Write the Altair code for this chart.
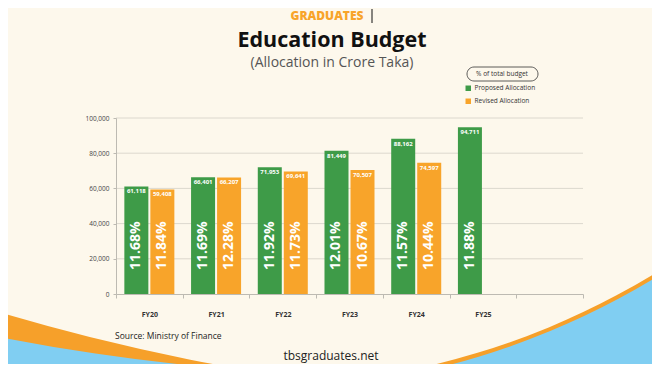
import math
import altair as alt
import pandas as pd

# ---------------- data ----------------
years = ["FY20", "FY21", "FY22", "FY23", "FY24", "FY25"]
proposed = [61118, 66401, 71953, 81449, 88162, 94711]
revised = [59408, 66207, 69641, 70507, 74597, None]
proposed_pct = [11.68, 11.69, 11.92, 12.01, 11.57, 11.88]
revised_pct = [11.84, 12.28, 11.73, 10.67, 10.44, None]
series = ["Proposed Allocation", "Revised Allocation"]
y_ticks = [0, 20000, 40000, 60000, 80000, 100000]
x_domain = years + [" "]

TITLE = "Education Budget"
SUBTITLE = "(Allocation in Crore Taka)"
BRAND = "GRADUATES"
LEGEND_NOTE = "% of total budget"
SOURCE = "Source: Ministry of Finance"
SITE = "tbsgraduates.net"

# ---------------- styling ----------------
FONT = "Open Sans"
GREEN = "#3E9B48"
ORANGE = "#F8A42A"
CREAM = "#FDF8EC"
BLUE = "#80CEF2"
SWOOSH = "#F6A02A"
GRID = "#DCD8CE"

rows = []
for i, yr in enumerate(years):
    rows.append(dict(year=yr, series=series[0], value=proposed[i],
                     pct=f"{proposed_pct[i]:.2f}%"))
    if revised[i] is not None:
        rows.append(dict(year=yr, series=series[1], value=revised[i],
                         pct=f"{revised_pct[i]:.2f}%"))
df = pd.DataFrame(rows)
grid_df = pd.DataFrame({"value": y_ticks[1:]})
one = pd.DataFrame({"k": [0]})

x_enc = alt.X(
    "year:N",
    scale=alt.Scale(domain=x_domain, paddingInner=0, paddingOuter=0),
    axis=alt.Axis(title=None, tickBand="extent", labelAngle=0,
                  labelFont=FONT, labelFontSize=7, labelFontWeight="bold",
                  labelColor="#333333", labelPadding=12, tickSize=4,
                  tickColor="#BDBAB2", domainColor="#BDBAB2", zindex=1),
)
y_enc = alt.Y(
    "value:Q",
    scale=alt.Scale(domain=[0, 100000], nice=False),
    axis=alt.Axis(title=None, values=y_ticks, format=",d", grid=False,
                  labelFont=FONT, labelFontSize=6.5, labelColor="#444444",
                  labelPadding=4, tickSize=3, tickColor="#BDBAB2",
                  domainColor="#BDBAB2", zindex=1),
)
xoff_enc = alt.XOffset("series:N",
                       scale=alt.Scale(domain=series, paddingInner=0.077,
                                       paddingOuter=0.321))

TWO_PI = 2 * math.pi


def ring(cx, cy, r_in, r_out, color):
    kw = dict(theta=0, theta2=TWO_PI, radius=r_out, color=color)
    if r_in > 0:
        kw["radius2"] = r_in
    return alt.Chart(one).mark_arc(**kw).encode(
        x=alt.value(cx), y=alt.value(cy))


# decorative background swooshes (cream page over blue, orange rims)
bg = [
    ring(138, -502, 0, 774, SWOOSH),
    ring(138, -502, 0, 770, CREAM),
    ring(484, -1818, 2100, 2600, SWOOSH),
    ring(284, -1818, 2076, 2600, BLUE),
]

grid = alt.Chart(grid_df).mark_rule(color=GRID, strokeWidth=1).encode(y=y_enc)

bars = alt.Chart(df).mark_bar().encode(
    x=x_enc,
    xOffset=xoff_enc,
    y=y_enc,
    color=alt.Color(
        "series:N",
        scale=alt.Scale(domain=series, range=[GREEN, ORANGE]),
        legend=alt.Legend(orient="none", legendX=349, legendY=-33, title=None,
                          symbolType="square", symbolSize=30,
                          symbolStrokeWidth=0, labelFont=FONT,
                          labelFontSize=6.5, labelColor="#333333",
                          padding=0, rowPadding=6, labelOffset=3),
    ),
)

value_text = alt.Chart(df).mark_text(
    font=FONT, fontSize=6, fontWeight="bold", color="white",
    baseline="middle", dy=5,
).encode(x=x_enc, xOffset=xoff_enc, y=y_enc,
         text=alt.Text("value:Q", format=",d"))

pct_text = alt.Chart(df).mark_text(
    font=FONT, fontSize=14, fontWeight="bold", color="white",
    angle=270, align="left", baseline="middle",
).encode(x=x_enc, xOffset=xoff_enc, y=alt.value(152), text="pct:N")


def label(txt, x, y, size, color, weight="normal", align="center",
          baseline="alphabetic"):
    return alt.Chart(one).mark_text(
        text=txt, font=FONT, fontSize=size, fontWeight=weight, color=color,
        align=align, baseline=baseline,
    ).encode(x=alt.value(x), y=alt.value(y))


texts = [
    label(BRAND, 211, -98, 12, ORANGE, weight=800),
    label(TITLE, 216, -71, 21.5, "#111111", weight="bold"),
    label(SUBTITLE, 216, -51, 14, "#555555"),
    label(LEGEND_NOTE, 386, -44, 6.5, "#333333", baseline="middle"),
    label(SOURCE, -1, 218, 8.5, "#222222", align="left", baseline="middle"),
    label(SITE, 215, 238, 12, "#222222", baseline="middle"),
]

note_box = alt.Chart(one).mark_rect(
    fill=CREAM, stroke="#333333", strokeWidth=0.8, cornerRadius=7,
).encode(x=alt.value(351), x2=alt.value(422), y=alt.value(-51),
         y2=alt.value(-37))

cursor = alt.Chart(one).mark_rule(color="#111111", strokeWidth=1).encode(
    x=alt.value(256), y=alt.value(-109), y2=alt.value(-95))

chart = alt.layer(
    *bg, grid, bars, value_text, pct_text, note_box, *texts, cursor
).properties(
    width=467, height=176,
    autosize=alt.AutoSizeParams(type="none"),
    padding={"left": 108, "top": 110, "right": 69, "bottom": 70},
).configure(background=BLUE).configure_view(stroke=None)

chart.save("out.html", embed_options={"renderer": "svg", "actions": False})
